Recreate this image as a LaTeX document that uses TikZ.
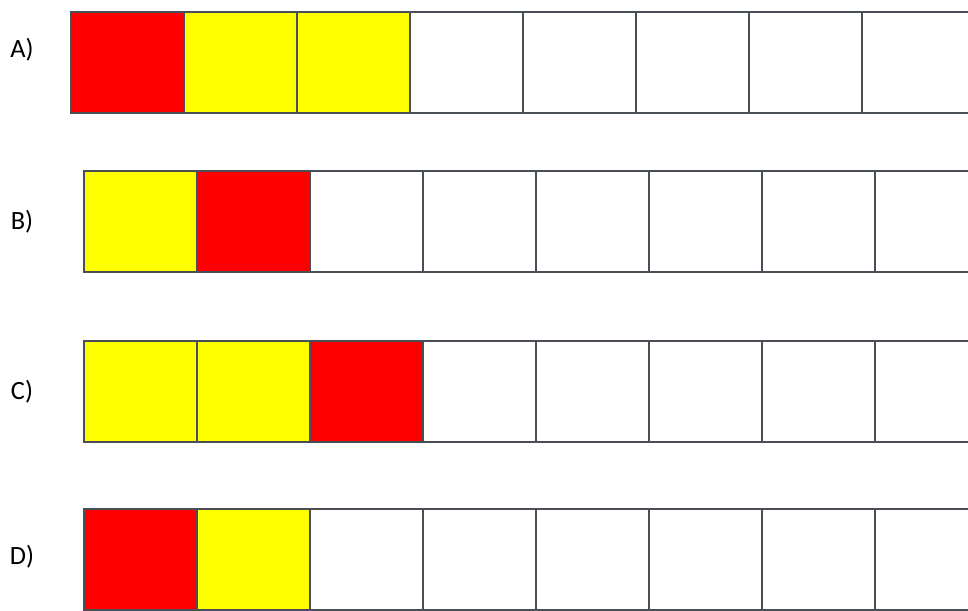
\documentclass[tikz,border=0pt]{standalone}
\usepackage{fontspec}
\setmainfont{Carlito}
\usepackage{xcolor}
\usepackage{tikz}
\usetikzlibrary{positioning}
\definecolor{cellred}{HTML}{FF0000}
\definecolor{cellyellow}{HTML}{FFFF00}
\definecolor{edge}{HTML}{4A4F55}

\begin{document}
\begin{tikzpicture}[x=0.02cm,y=-0.02cm,
  cell/.style={draw=edge,line width=0.8pt,fill=white,minimum width=2.26cm,minimum height=2.02cm,inner sep=0pt,outer sep=0pt},
  red/.style={cell,fill=cellred},
  yel/.style={cell,fill=cellyellow},
  lbl/.style={font=\fontsize{15}{18}\selectfont}
]
\useasboundingbox (0,0) rectangle (968,610);
\clip (0,0) rectangle (968,610);
\fill[white] (0,0) rectangle (968,610);
% row A
\node[lbl] (lA) at (22,50) {A)};
\node[red,anchor=north west] (a1) at (71,12) {};
\node[yel,right=0pt of a1] (a2) {};
\node[yel,right=0pt of a2] (a3) {};
\foreach \k [remember=\k as \p (initially 3)] in {4,...,8}
  \node[cell,right=0pt of a\p] (a\k) {};
% row B
\node[lbl] (lB) at (22,222) {B)};
\node[yel,anchor=north west] (b1) at (84,171) {};
\node[red,right=0pt of b1] (b2) {};
\foreach \k [remember=\k as \p (initially 2)] in {3,...,8}
  \node[cell,right=0pt of b\p] (b\k) {};
% row C
\node[lbl] (lC) at (22,392) {C)};
\node[yel,anchor=north west] (c1) at (84,341) {};
\node[yel,right=0pt of c1] (c2) {};
\node[red,right=0pt of c2] (c3) {};
\foreach \k [remember=\k as \p (initially 3)] in {4,...,8}
  \node[cell,right=0pt of c\p] (c\k) {};
% row D
\node[lbl] (lD) at (22,557) {D)};
\node[red,anchor=north west] (d1) at (84,509) {};
\node[yel,right=0pt of d1] (d2) {};
\foreach \k [remember=\k as \p (initially 2)] in {3,...,8}
  \node[cell,right=0pt of d\p] (d\k) {};
\end{tikzpicture}
\end{document}
